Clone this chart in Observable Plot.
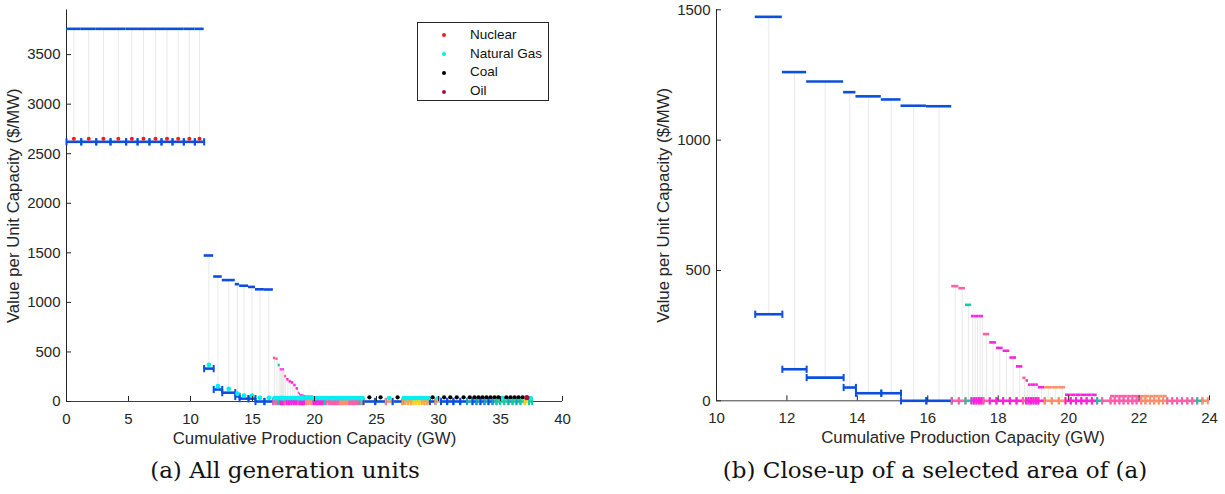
<!DOCTYPE html>
<html><head><meta charset="utf-8">
<script src="https://cdn.jsdelivr.net/npm/d3@7"></script>
<script src="https://cdn.jsdelivr.net/npm/@observablehq/plot@0.6"></script>
<style>
body{margin:0;background:#fff;width:1225px;height:494px;position:relative;overflow:hidden;font-family:"Liberation Sans",Arial,sans-serif;}
#left{position:absolute;left:0;top:0;}
#right{position:absolute;left:650px;top:0;}
.caption{position:absolute;top:470px;font-family:"DejaVu Serif",serif;font-size:23px;color:#111;transform:translate(-50%,-50%);white-space:nowrap;}
#legend{position:absolute;left:417px;top:22px;width:132px;height:79px;border:1px solid #262626;background:#fff;box-sizing:border-box;font-size:13.5px;color:#111;}
#legend .row{position:absolute;left:0;height:18px;line-height:18px;}
#legend .dot{position:absolute;left:24px;top:7.5px;width:4px;height:4px;border-radius:50%;}
#legend .lab{position:absolute;left:52px;top:0;white-space:nowrap;}
</style></head>
<body>
<div id="left"></div>
<div id="right"></div>
<div id="legend"></div>
<div class="caption" style="left:285px">(a) All generation units</div>
<div class="caption" style="left:935px">(b) Close-up of a selected area of (a)</div>
<script>
// ---------- data ----------
// Nuclear units: cumulative capacity boundaries (GW)
const nuclearEdges = [0, 1.19, 2.40, 3.55, 4.81, 5.73, 6.69, 7.66, 8.55, 9.46, 10.35, 11.10];
const nuclearUpper = 3760;   // $/MW
const nuclearLower = 2620;
const nuclearDot = 2650;

// Large gas units following the nuclear block
const peakerEdges = [11.10, 11.87, 12.56, 13.61, 13.96, 14.68, 15.24, 15.96, 16.68];
const peakerUpper = [1473, 1261, 1225, 1184, 1168, 1156, 1132, 1130];
const peakerLower = [332, 121, 89, 51, 29, 29, 0, 0];
const peakerDot = [370, 154, 128, 78, 60, 60, 37, 37];

// Small units (lower value 0)
const smallEdges = [16.68, 16.88, 17.07, 17.24, 17.31, 17.38, 17.45, 17.52, 17.58, 17.76, 17.95, 18.14, 18.33, 18.52, 18.70, 18.79, 18.86, 18.93, 19.00, 19.07, 19.14, 19.32, 19.52, 19.72, 19.91, 20.06, 20.21, 20.36, 20.51, 20.66, 20.81, 20.95, 21.19, 21.31, 21.44, 21.56, 21.69, 21.81, 21.93, 22.06, 22.18, 22.31, 22.43, 22.56, 22.68, 22.80, 22.94, 23.08, 23.22, 23.37, 23.51, 23.65, 23.80, 23.95,
  24.90, 25.75, 26.30, 27.10, 27.32, 27.54, 27.76, 27.98, 28.20, 28.42, 28.64, 28.86, 29.08, 29.30, 29.75, 30.20, 30.70, 31.20, 31.75, 32.30, 32.74, 33.06, 33.38, 33.70, 34.03, 34.35, 34.68, 34.97, 35.30, 35.64, 35.97, 36.29, 36.61, 36.95, 37.30, 37.55];
const smallUpper = [440, 432, 368, 325, 325, 325, 325, 325, 256, 224, 203, 192, 166, 132, 88, 78, 62, 62, 62, 62, 52, 52, 52, 52, 23, 23, 23, 23, 23, 23, 0, 0,
  18, 18, 18, 18, 18, 18, 18, 18, 18, 18, 18, 18, 18, 0, 0, 0, 0, 0, 0, 0, 0,
  0, 0, 0, 0, 0, 0, 0, 0, 0, 0, 0, 0, 0, 0, 0, 0, 0, 0, 0, 0, 0, 0, 0, 0, 0, 0, 0, 0, 0, 0, 0, 0, 0, 0, 0, 0];
const smallColor = ("PPGMMMMMPMMMMMPMMMMMMSSSMMMMMMGPPPPPPPPSSSSSSPPPPPPGS" + "BBSBOOOOYYYOOOBOBBBBTBTBTBTGGGTGTGYG").split("");
const smallFuel = ("NNNNNNNNNNNNNNNNNNNNNNNNNNNNNNNNNNNNNNNNNNNNNNNNNNNNN" + "CCNCNNNNNNNNNNCNCCCCCCCCCCCCNCCCCCON").split("");
const fuelDotValue = {N: 35, C: 42, O: 40};

// legend
const fuelNames = ["Nuclear", "Natural Gas", "Coal", "Oil"];
const fuelCodes = {N: "Natural Gas", C: "Coal", O: "Oil"};
const fuelColors = {"Nuclear": "#ff1a1a", "Natural Gas": "#00f0f0", "Coal": "#000000", "Oil": "#a3123e"};
const fuelDotRadius = {"Nuclear": 2, "Natural Gas": 2.4, "Coal": 2.1, "Oil": 2.6};
const segPalette = {B: "#0b4fdc", P: "#ff5fa8", M: "#ff22dd", S: "#ff8f6c", G: "#17c99c", O: "#f7a64c", Y: "#ffd21c", T: "#1aa2bc"};

// ticks
const leftXTicks = [0, 5, 10, 15, 20, 25, 30, 35, 40];
const leftYTicks = [0, 500, 1000, 1500, 2000, 2500, 3000, 3500];
const rightXTicks = [10, 12, 14, 16, 18, 20, 22, 24];
const rightYTicks = [0, 500, 1000, 1500];

// ---------- build units ----------
const units = [];
function addUnit(x0, x1, upper, lower, code, fuel, dotY) {
  units.push({x0, x1, xm: (x0 + x1) / 2, upper, lower, color: segPalette[code], fuel, dotY});
}
for (let i = 0; i < nuclearEdges.length - 1; i++) addUnit(nuclearEdges[i], nuclearEdges[i + 1], nuclearUpper, nuclearLower, "B", "Nuclear", nuclearDot);
for (let i = 0; i < peakerEdges.length - 1; i++) addUnit(peakerEdges[i], peakerEdges[i + 1], peakerUpper[i], peakerLower[i], "B", "Natural Gas", peakerDot[i]);
for (let i = 0; i < smallEdges.length - 1; i++) addUnit(smallEdges[i], smallEdges[i + 1], smallUpper[i], 0, smallColor[i], fuelCodes[smallFuel[i]], fuelDotValue[smallFuel[i]]);

const capSymbol = {draw(ctx, size) { const r = Math.sqrt(size / Math.PI); ctx.moveTo(0, -r); ctx.lineTo(0, r); }};

const FONT = "'Liberation Sans', Arial, Helvetica, sans-serif";
const AX = "#262626";

function panelMarks(xmin, xmax, ymax, showDots) {
  const us = units.filter(d => d.x0 >= xmin - 1e-9 && d.x1 <= xmax + 1e-9 && d.lower <= ymax);
  const caps = us.flatMap(d => [{x: d.x0, y: d.lower, color: d.color}, {x: d.x1, y: d.lower, color: d.color}]);
  const ups = us.filter(d => d.upper > d.lower && d.upper <= ymax);
  const marks = [
    Plot.ruleX(ups, {x: "xm", y1: "lower", y2: "upper", stroke: "#e9e9e9", strokeWidth: 1}),
    Plot.ruleY([0], {stroke: "#404040", strokeWidth: 1}),
    Plot.ruleX([xmin], {stroke: AX, strokeWidth: 1}),
    Plot.ruleY(us, {x1: "x0", x2: "x1", y: "lower", stroke: "color", strokeWidth: 2.6}),
    Plot.dot(caps, {x: "x", y: "y", symbol: capSymbol, r: 3.6, stroke: "color", fill: "none", strokeWidth: 2}),
    Plot.ruleY(ups, {x1: "x0", x2: "x1", y: "upper", stroke: "color", strokeWidth: 2.6})
  ];
  if (showDots) {
    for (const name of fuelNames) {
      marks.push(Plot.dot(us.filter(d => d.fuel === name), {x: "xm", y: "dotY", r: fuelDotRadius[name], fill: fuelColors[name], stroke: "none"}));
    }
  }
  return marks;
}

function axes(xTicks, yTicks) {
  return [
    Plot.axisX({ticks: xTicks, tickSize: -5, tickPadding: 16.5, stroke: AX, fill: AX, fontSize: 15, label: null, tickFormat: d => String(d)}),
    Plot.axisY({ticks: yTicks, tickSize: -5, tickPadding: 11, stroke: AX, fill: AX, fontSize: 15, label: null, tickFormat: d => String(d)}),
    Plot.text(["Cumulative Production Capacity (GW)"], {frameAnchor: "bottom", dy: 37, fontSize: 16.8, fill: AX, lineAnchor: "middle", textAnchor: "middle"}),
    Plot.text(["Value per Unit Capacity ($/MW)"], {frameAnchor: "left", dx: -53, rotate: -90, fontSize: 16.8, fill: AX, lineAnchor: "middle", textAnchor: "middle"})
  ];
}

const left = Plot.plot({
  width: 610, height: 440,
  marginLeft: 66, marginRight: 48, marginTop: 9.5, marginBottom: 39,
  style: {fontFamily: FONT, fontSize: "15px", color: AX, background: "transparent", overflow: "visible"},
  x: {domain: [0, 40]},
  y: {domain: [0, 3950]},
  marks: [...panelMarks(0, 40, 3950, true), ...axes(leftXTicks, leftYTicks)]
});
document.getElementById("left").appendChild(left);

const right = Plot.plot({
  width: 575, height: 440,
  marginLeft: 66, marginRight: 16, marginTop: 9.3, marginBottom: 39.7,
  style: {fontFamily: FONT, fontSize: "15px", color: AX, background: "transparent", overflow: "visible"},
  x: {domain: [10, 24]},
  y: {domain: [0, 1500]},
  marks: [...panelMarks(10, 24, 1500, false), ...axes(rightXTicks, rightYTicks)]
});
document.getElementById("right").appendChild(right);

// legend
const legend = document.getElementById("legend");
fuelNames.forEach((name, i) => {
  const row = document.createElement("div");
  row.className = "row";
  row.style.top = (2.7 + i * 18.8) + "px";
  row.style.width = "100%";
  row.innerHTML = `<span class="dot" style="background:${fuelColors[name]}"></span><span class="lab">${name}</span>`;
  legend.appendChild(row);
});
</script>
</body></html>
